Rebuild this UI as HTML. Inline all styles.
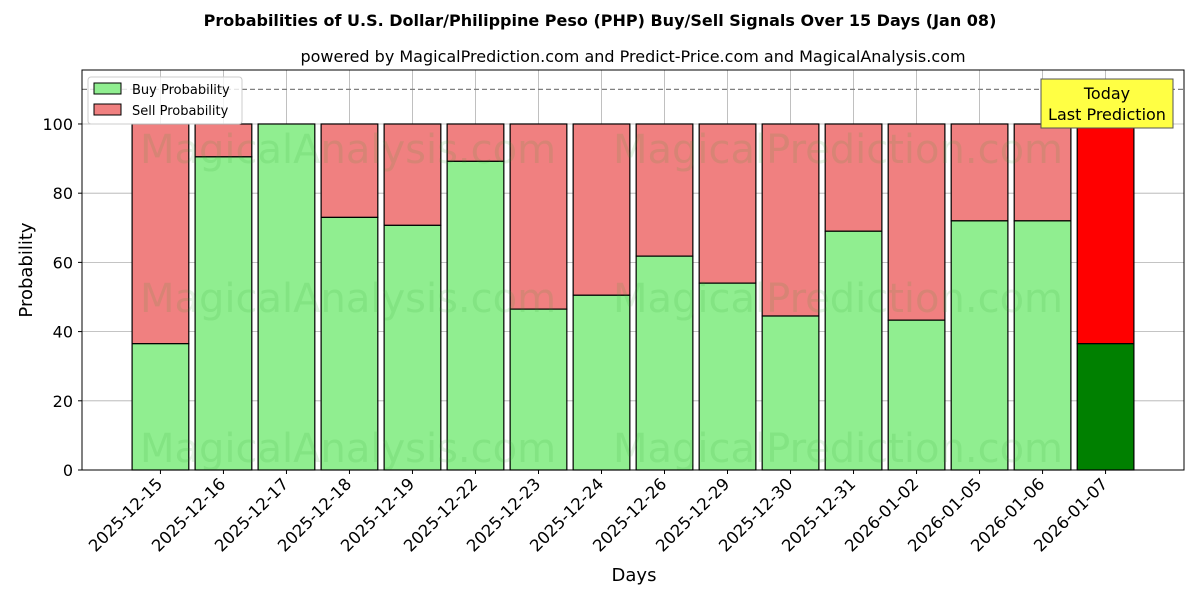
<!DOCTYPE html>
<html><head><meta charset="utf-8"><style>
body{margin:0;background:#fff;font-family:"DejaVu Sans","Liberation Sans",sans-serif}
</style></head><body>
<svg id="chart" width="1200" height="600" xmlns="http://www.w3.org/2000/svg" font-family="DejaVu Sans, Liberation Sans, sans-serif">
<rect width="1200" height="600" fill="#fff"/>
<text x="600" y="26" text-anchor="middle" font-size="16" font-weight="bold">Probabilities of U.S. Dollar/Philippine Peso (PHP) Buy/Sell Signals Over 15 Days (Jan 08)</text>
<text x="633" y="62" text-anchor="middle" font-size="16">powered by MagicalPrediction.com and Predict-Price.com and MagicalAnalysis.com</text>
<g id="grid"></g>
<g id="bars"></g>
<g id="wm" font-size="40" fill="#2ca02c" fill-opacity="0.13">
<text x="348" y="163" text-anchor="middle">MagicalAnalysis.com</text>
<text x="838" y="163" text-anchor="middle">MagicalPrediction.com</text>
<text x="348" y="312" text-anchor="middle">MagicalAnalysis.com</text>
<text x="838" y="312" text-anchor="middle">MagicalPrediction.com</text>
<text x="348" y="462" text-anchor="middle">MagicalAnalysis.com</text>
<text x="838" y="462" text-anchor="middle">MagicalPrediction.com</text>
</g>
<line x1="82" x2="1184" y1="89.4" y2="89.4" stroke="#808080" stroke-width="1.2" stroke-dasharray="5,3"/>
<rect x="82" y="70" width="1102" height="400" fill="none" stroke="#000" stroke-width="1"/>
<g id="axes"></g>
<text x="634" y="581" text-anchor="middle" font-size="18">Days</text>
<text transform="translate(32,270) rotate(-90)" text-anchor="middle" font-size="18">Probability</text>
<g>
<rect x="88" y="77" width="154" height="47" fill="#fff" fill-opacity="0.8" stroke="#ccc" rx="3"/>
<rect x="94" y="83" width="27" height="11" fill="#90ee90" stroke="#000"/>
<text x="132" y="94" font-size="13">Buy Probability</text>
<rect x="94" y="104" width="27" height="11" fill="#f08080" stroke="#000"/>
<text x="132" y="115" font-size="13">Sell Probability</text>
</g>
<g>
<rect x="1041" y="79" width="132" height="49" fill="#ffff44" stroke="#555"/>
<text x="1107" y="99" text-anchor="middle" font-size="16">Today</text>
<text x="1107" y="120" text-anchor="middle" font-size="16">Last Prediction</text>
</g>
</svg>
<script>
const categories=["2025-12-15","2025-12-16","2025-12-17","2025-12-18","2025-12-19","2025-12-22","2025-12-23","2025-12-24","2025-12-26","2025-12-29","2025-12-30","2025-12-31","2026-01-02","2026-01-05","2026-01-06","2026-01-07"];
const buyValues=[36.5,90.5,100,73,70.7,89.2,46.5,50.5,61.8,54,44.5,69,43.3,72,72,36.5];
const yTicks=[0,20,40,60,80,100];
const NS="http://www.w3.org/2000/svg";
const L=82,R=1184,T=70,B=470,xmin=-1.245,xmax=16.245,ymax=115.6;
const xs=i=>L+(i-xmin)/(xmax-xmin)*(R-L);
const ys=v=>B-v/ymax*(B-T);
const bw=0.9*(R-L)/(xmax-xmin);
function mk(tag,attrs,parent){const e=document.createElementNS(NS,tag);for(const k in attrs)e.setAttribute(k,attrs[k]);parent.appendChild(e);return e;}
const grid=document.getElementById('grid'),bars=document.getElementById('bars'),axes=document.getElementById('axes');
yTicks.forEach(t=>{
 const g=mk('line',{x1:L,x2:R,y1:ys(t),y2:ys(t),stroke:'#b0b0b0','stroke-width':0.8},grid);
 
 
 mk('line',{x1:L-4,x2:L,y1:ys(t),y2:ys(t),stroke:'#000'},axes);
 const tx=mk('text',{x:L-9,y:ys(t)+6,'text-anchor':'end','font-size':16},axes);
 tx.textContent=t;
 
 
});
categories.forEach((c,i)=>{
 const x=xs(i);
 const g=mk('line',{x1:x,x2:x,y1:T,y2:B,stroke:'#b0b0b0','stroke-width':0.8},grid);
 
 
 const last=i===categories.length-1;
 const b=buyValues[i];
 const s=mk('rect',{x:x-bw/2,y:ys(100),width:bw,height:ys(b)-ys(100),fill:last?'#ff0000':'#f08080',stroke:'#000','stroke-width':1.2},bars);
 
 
 const r=mk('rect',{x:x-bw/2,y:ys(b),width:bw,height:B-ys(b),fill:last?'#008000':'#90ee90',stroke:'#000','stroke-width':1.2},bars);
 
 
 mk('line',{x1:x,x2:x,y1:B,y2:B+4,stroke:'#000'},axes);
 const tx=mk('text',{transform:`translate(${x+3},${B+15}) rotate(-45)`,'text-anchor':'end','font-size':16.5},axes);
 tx.textContent=c;
 
 
});
</script>
</body></html>
